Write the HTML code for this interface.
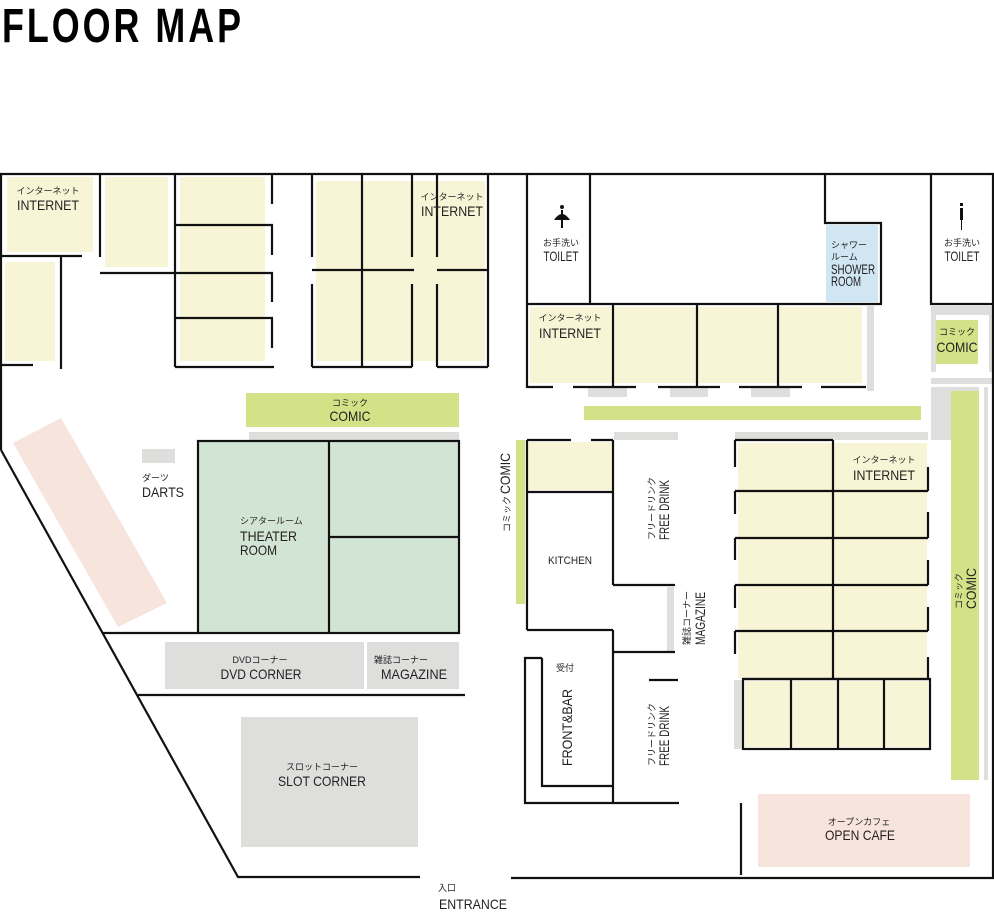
<!DOCTYPE html>
<html><head><meta charset="utf-8"><style>
html,body{margin:0;padding:0;background:#fff;}
svg{display:block;}
text{font-family:"Liberation Sans","Noto Sans CJK JP",sans-serif;fill:#231f20;}
.jp{font-size:9px;}
.en{font-size:14px;}
</style></head><body>
<svg width="994" height="913" viewBox="0 0 994 913" xmlns="http://www.w3.org/2000/svg">
<text x="2" y="42" font-size="48" font-weight="bold" textLength="242" lengthAdjust="spacingAndGlyphs" letter-spacing="4" style="fill:#000">FLOOR MAP</text>

<!-- fills -->
<g fill="#f8f5d7">
<rect x="7" y="177" width="86" height="75"/>
<rect x="5" y="262" width="50" height="99"/>
<rect x="105" y="177" width="63" height="90"/>
<rect x="180" y="177" width="85" height="184"/>
<rect x="316" y="181" width="169" height="180"/>
<rect x="530" y="307" width="332" height="76"/>
<rect x="528" y="442" width="84" height="48"/>
<rect x="738" y="443" width="189" height="235"/>
<rect x="745" y="681" width="183" height="66"/>
</g>
<polygon points="13,443 61,418 167,603 118,627" fill="#f7e4dd"/>
<rect x="758" y="794" width="212" height="73" fill="#f7e5dd"/>
<rect x="826" y="225" width="52" height="77" fill="#d0e7f3"/>
<g fill="#d3e287">
<rect x="246" y="393" width="213" height="34"/>
<rect x="584" y="406" width="337" height="14"/>
<rect x="516" y="440" width="9" height="164"/>
</g>
<rect x="198" y="441" width="261" height="192" fill="#d2e5d4"/>
<g fill="#dededd">
<rect x="249" y="432" width="210" height="8"/>
<rect x="142" y="449" width="33" height="14"/>
<rect x="165" y="642" width="199" height="47"/>
<rect x="367" y="642" width="92" height="47"/>
<rect x="241" y="717" width="177" height="130"/>
<rect x="588" y="388" width="39" height="9"/>
<rect x="670" y="388" width="38" height="9"/>
<rect x="751" y="388" width="39" height="9"/>
<rect x="867" y="306" width="7" height="85"/>
<rect x="931" y="306" width="62" height="80"/>
<rect x="931" y="386" width="57" height="54"/>
<rect x="984" y="440" width="4" height="340"/>
<rect x="614" y="432" width="64" height="8"/>
<rect x="735" y="432" width="193" height="8"/>
<rect x="667" y="587" width="7" height="65"/>
<rect x="734" y="680" width="9" height="69"/>
</g>
<rect x="936" y="315" width="53" height="57" fill="#fff"/>
<rect x="936" y="320" width="42" height="44" fill="#d3e287"/>
<rect x="931" y="372" width="62" height="6" fill="#fff"/>
<rect x="931" y="384" width="62" height="3" fill="#fff"/>
<rect x="979" y="387" width="5" height="393" fill="#fff"/>
<rect x="951" y="391" width="28" height="389" fill="#d3e287"/>

<!-- walls -->
<g stroke="#111" stroke-width="2.2" fill="none">
<polyline points="1,450 1,174 994,174"/>
<polyline points="1,450 238,877 420,877"/>
<polyline points="511,878 993,878 993,174"/>
<line x1="100" y1="174" x2="100" y2="257"/>
<line x1="1" y1="256" x2="82" y2="256"/>
<line x1="61" y1="256" x2="61" y2="369"/>
<line x1="1" y1="365" x2="33" y2="365"/>
<line x1="100" y1="273" x2="273" y2="273"/>
<line x1="175" y1="174" x2="175" y2="367"/>
<line x1="175" y1="225" x2="273" y2="225"/>
<line x1="175" y1="318" x2="273" y2="318"/>
<line x1="175" y1="367" x2="274" y2="367"/>
<line x1="272" y1="174" x2="272" y2="204"/>
<line x1="272" y1="225" x2="272" y2="255"/>
<line x1="272" y1="273" x2="272" y2="302"/>
<line x1="272" y1="318" x2="272" y2="348"/>
<line x1="312" y1="174" x2="312" y2="257"/>
<line x1="312" y1="284" x2="312" y2="367"/>
<line x1="362" y1="174" x2="362" y2="367"/>
<line x1="412" y1="174" x2="412" y2="257"/>
<line x1="412" y1="284" x2="412" y2="367"/>
<line x1="437" y1="174" x2="437" y2="257"/>
<line x1="437" y1="284" x2="437" y2="367"/>
<line x1="488" y1="174" x2="488" y2="367"/>
<line x1="312" y1="270" x2="414" y2="270"/>
<line x1="437" y1="270" x2="488" y2="270"/>
<line x1="312" y1="367" x2="412" y2="367"/>
<line x1="437" y1="367" x2="488" y2="367"/>
<rect x="198" y="441" width="261" height="192"/>
<line x1="329" y1="441" x2="329" y2="633"/>
<line x1="329" y1="537" x2="459" y2="537"/>
<line x1="103" y1="633" x2="198" y2="633"/>
<line x1="138" y1="695" x2="465" y2="695"/>
<line x1="527" y1="174" x2="527" y2="388"/>
<line x1="590" y1="174" x2="590" y2="304"/>
<line x1="527" y1="304" x2="882" y2="304"/>
<polyline points="825,174 825,223 881,223 881,304"/>
<polyline points="931,174 931,304 993,304"/>
<line x1="613" y1="304" x2="613" y2="387"/>
<line x1="697" y1="304" x2="697" y2="387"/>
<line x1="778" y1="304" x2="778" y2="387"/>
<line x1="527" y1="387" x2="553" y2="387"/>
<line x1="573" y1="387" x2="636" y2="387"/>
<line x1="658" y1="387" x2="720" y2="387"/>
<line x1="739" y1="387" x2="802" y2="387"/>
<line x1="821" y1="387" x2="866" y2="387"/>
<line x1="527" y1="440" x2="571" y2="440"/>
<line x1="591" y1="440" x2="613" y2="440"/>
<line x1="527" y1="440" x2="527" y2="630"/>
<line x1="527" y1="492" x2="613" y2="492"/>
<line x1="613" y1="440" x2="613" y2="585"/>
<line x1="613" y1="585" x2="675" y2="585"/>
<line x1="527" y1="630" x2="613" y2="630"/>
<line x1="613" y1="630" x2="613" y2="803"/>
<line x1="613" y1="652" x2="675" y2="652"/>
<polyline points="542,658 525,658 525,803 679,803"/>
<polyline points="542,658 542,786 613,786"/>
<line x1="649" y1="680" x2="678" y2="680"/>
<line x1="735" y1="440" x2="833" y2="440"/>
<line x1="833" y1="440" x2="833" y2="679"/>
<line x1="735" y1="491" x2="928" y2="491"/>
<line x1="735" y1="538" x2="928" y2="538"/>
<line x1="735" y1="585" x2="928" y2="585"/>
<line x1="735" y1="631" x2="928" y2="631"/>
<line x1="743" y1="679" x2="929" y2="679"/>
<line x1="735" y1="440" x2="735" y2="467"/>
<line x1="735" y1="491" x2="735" y2="514"/>
<line x1="735" y1="538" x2="735" y2="560"/>
<line x1="735" y1="585" x2="735" y2="608"/>
<line x1="735" y1="631" x2="735" y2="654"/>
<line x1="928" y1="467" x2="928" y2="491"/>
<line x1="928" y1="512" x2="928" y2="538"/>
<line x1="928" y1="560" x2="928" y2="585"/>
<line x1="928" y1="607" x2="928" y2="631"/>
<line x1="928" y1="657" x2="928" y2="679"/>
<rect x="743" y="679" width="187" height="70"/>
<line x1="791" y1="679" x2="791" y2="749"/>
<line x1="838" y1="679" x2="838" y2="749"/>
<line x1="884" y1="679" x2="884" y2="749"/>
<line x1="741" y1="803" x2="741" y2="875"/>
</g>

<g fill="#111">
<circle cx="562" cy="207" r="2"/>
<path d="M554,220 Q562,208 570,220 Z"/>
<rect x="561" y="210" width="2" height="18"/>
<rect x="960" y="203" width="3" height="3"/>
<rect x="960" y="208" width="3" height="12"/>
<rect x="961" y="219" width="1" height="11"/>
</g>

<g text-anchor="middle">
<text class="jp" x="48" y="194">インターネット</text>
<text class="en" x="48" y="210" textLength="62" lengthAdjust="spacingAndGlyphs">INTERNET</text>
<text class="jp" x="452" y="200">インターネット</text>
<text class="en" x="452" y="216" textLength="62" lengthAdjust="spacingAndGlyphs">INTERNET</text>
<text class="jp" x="350" y="406">コミック</text>
<text class="en" x="350" y="421" textLength="41" lengthAdjust="spacingAndGlyphs">COMIC</text>
<text class="jp" x="561" y="246">お手洗い</text>
<text class="en" x="561" y="261" font-size="12" textLength="35" lengthAdjust="spacingAndGlyphs">TOILET</text>
<text class="jp" x="962" y="246">お手洗い</text>
<text class="en" x="962" y="261" font-size="12" textLength="35" lengthAdjust="spacingAndGlyphs">TOILET</text>
<text class="jp" x="570" y="321">インターネット</text>
<text class="en" x="570" y="338" textLength="62" lengthAdjust="spacingAndGlyphs">INTERNET</text>
<text class="jp" x="957" y="335">コミック</text>
<text class="en" x="957" y="352" textLength="41" lengthAdjust="spacingAndGlyphs">COMIC</text>
<text class="jp" x="884" y="463">インターネット</text>
<text class="en" x="884" y="480" textLength="62" lengthAdjust="spacingAndGlyphs">INTERNET</text>
<text x="570" y="564" font-size="11" textLength="44" lengthAdjust="spacingAndGlyphs">KITCHEN</text>
<text class="jp" x="859" y="825">オープンカフェ</text>
<text class="en" x="860" y="840" textLength="70" lengthAdjust="spacingAndGlyphs">OPEN CAFE</text>
<text class="jp" x="260" y="663">DVDコーナー</text>
<text class="en" x="261" y="679" textLength="81" lengthAdjust="spacingAndGlyphs">DVD CORNER</text>
<text class="jp" x="401" y="663">雑誌コーナー</text>
<text class="en" x="414" y="679" textLength="66" lengthAdjust="spacingAndGlyphs">MAGAZINE</text>
<text class="jp" x="322" y="770">スロットコーナー</text>
<text class="en" x="322" y="786" textLength="88" lengthAdjust="spacingAndGlyphs">SLOT CORNER</text>
<text class="jp" x="447" y="891">入口</text>
<text class="en" x="473" y="909" textLength="68" lengthAdjust="spacingAndGlyphs">ENTRANCE</text>
<text class="jp" x="565" y="671">受付</text>
</g>
<text class="jp" x="831" y="248">シャワー</text>
<text class="jp" x="831" y="260">ルーム</text>
<text class="en" x="831" y="274" font-size="12" textLength="44" lengthAdjust="spacingAndGlyphs">SHOWER</text>
<text class="en" x="831" y="286" font-size="12" textLength="30" lengthAdjust="spacingAndGlyphs">ROOM</text>
<text class="jp" x="142" y="481">ダーツ</text>
<text class="en" x="142" y="497" textLength="42" lengthAdjust="spacingAndGlyphs">DARTS</text>
<text class="jp" x="240" y="524">シアタールーム</text>
<text class="en" x="240" y="541" textLength="57" lengthAdjust="spacingAndGlyphs">THEATER</text>
<text class="en" x="240" y="555" textLength="37" lengthAdjust="spacingAndGlyphs">ROOM</text>

<g transform="translate(510,532) rotate(-90)"><text class="jp" x="0" y="0">コミック</text><text class="en" x="38" y="0" textLength="41" lengthAdjust="spacingAndGlyphs">COMIC</text></g>
<g transform="translate(655,540) rotate(-90)"><text class="jp" x="0" y="0">フリードリンク</text><text class="en" x="0" y="14" textLength="60" lengthAdjust="spacingAndGlyphs">FREE DRINK</text></g>
<g transform="translate(690,645) rotate(-90)"><text class="jp" x="0" y="0">雑誌コーナー</text><text class="en" x="0" y="15" textLength="53" lengthAdjust="spacingAndGlyphs">MAGAZINE</text></g>
<g transform="translate(572,766) rotate(-90)"><text class="en" x="0" y="0" textLength="77" lengthAdjust="spacingAndGlyphs">FRONT&amp;BAR</text></g>
<g transform="translate(655,766) rotate(-90)"><text class="jp" x="0" y="0">フリードリンク</text><text class="en" x="0" y="14" textLength="60" lengthAdjust="spacingAndGlyphs">FREE DRINK</text></g>
<g transform="translate(962,609) rotate(-90)"><text class="jp" x="0" y="0">コミック</text><text class="en" x="0" y="14" textLength="41" lengthAdjust="spacingAndGlyphs">COMIC</text></g>
</svg>
</body></html>
